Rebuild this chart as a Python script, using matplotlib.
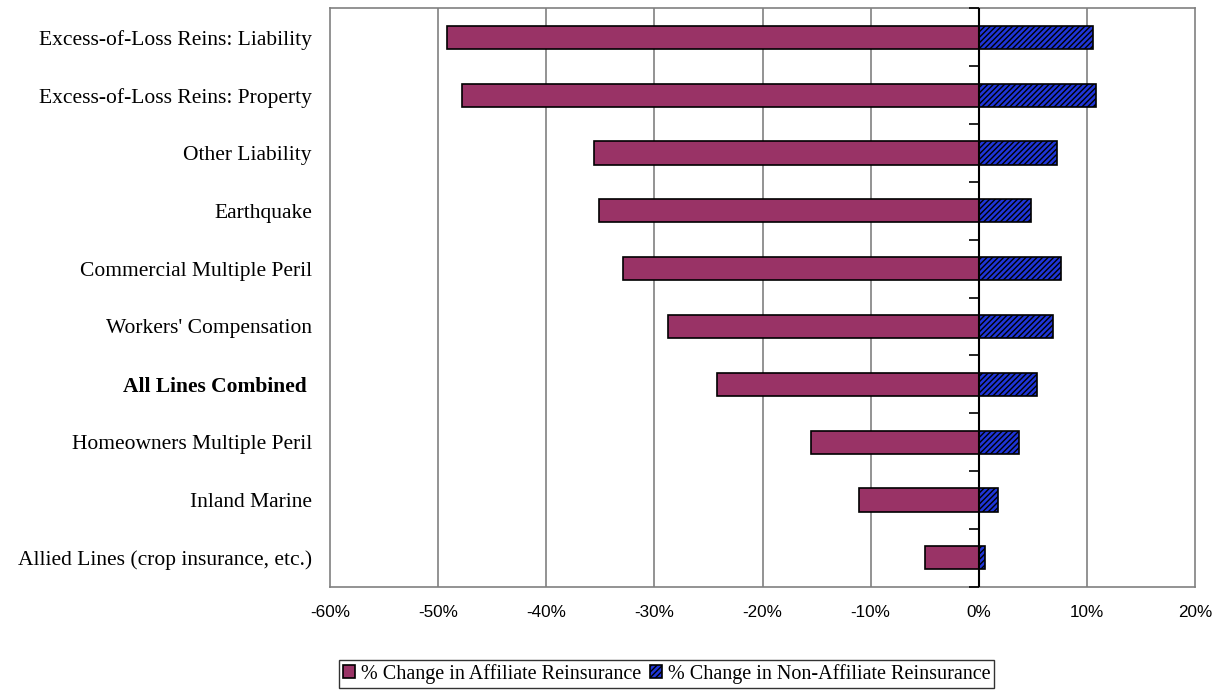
import matplotlib.pyplot as plt
import numpy as np

# Lines of business, top to bottom
lines = ['Excess-of-Loss Reins: Liability', 'Excess-of-Loss Reins: Property',
         'Other Liability', 'Earthquake', 'Commercial Multiple Peril',
         "Workers' Compensation", 'All Lines Combined ',
         'Homeowners Multiple Peril', 'Inland Marine',
         'Allied Lines (crop insurance, etc.)']
affiliate = [-49.2, -47.8, -35.6, -35.1, -32.9, -28.7, -24.2, -15.5, -11.1, -5.0]
non_affiliate = [10.6, 10.8, 7.2, 4.8, 7.6, 6.9, 5.4, 3.7, 1.8, 0.6]
xticks = [-60, -50, -40, -30, -20, -10, 0, 10, 20]

plt.rcParams['hatch.linewidth'] = 1.0

fig = plt.figure(figsize=(12.21, 6.96), dpi=100)
ax = fig.add_axes([0.2703, 0.157, 0.7084, 0.831])

y = np.arange(len(lines))
ax.barh(y, affiliate, height=0.4, color='#993366', edgecolor='black',
        linewidth=1.2, label='% Change in Affiliate Reinsurance', zorder=3)
ax.barh(y, non_affiliate, height=0.4, color='#1f35d8', edgecolor='black',
        hatch='//////', linewidth=1.2,
        label='% Change in Non-Affiliate Reinsurance', zorder=3)

ax.set_xlim(-60, 20)
ax.set_ylim(len(lines) - 0.5, -0.5)
ax.set_xticks(xticks)
ax.set_xticklabels([f'{v}%' for v in xticks], fontfamily='Liberation Sans',
                   fontsize=12.3)
ax.tick_params(axis='x', length=0, pad=13)
ax.tick_params(axis='y', length=0, pad=13)
ax.set_yticks(y)
ax.set_yticklabels(lines, fontfamily='Liberation Serif', fontsize=15.5)
for lab in ax.get_yticklabels():
    if lab.get_text().startswith('All Lines'):
        lab.set_fontweight('bold')

# vertical gridlines and the zero axis with category ticks
for v in xticks[1:-1]:
    if v != 0:
        ax.axvline(v, color='#808080', linewidth=1.2, zorder=1)
ax.axvline(0, color='black', linewidth=1.5, zorder=4)
bounds = np.arange(len(lines) + 1) - 0.5
ax.plot(np.zeros_like(bounds), bounds, linestyle='none', marker=0,
        markersize=7, markeredgewidth=1.2, color='black', zorder=4,
        clip_on=False)

for s in ax.spines.values():
    s.set_color('#808080')
    s.set_linewidth(1.2)

leg = fig.legend(loc='upper center', bbox_to_anchor=(0.546, 0.0517), ncol=2,
                 prop={'family': 'Liberation Serif', 'size': 14.5},
                 frameon=True, fancybox=False, edgecolor='black',
                 handlelength=0.6, handleheight=0.6, handletextpad=0.3,
                 columnspacing=0.4, borderpad=0.2, borderaxespad=0)
leg.get_frame().set_linewidth(1.0)

fig.savefig('out.png', dpi=100)
